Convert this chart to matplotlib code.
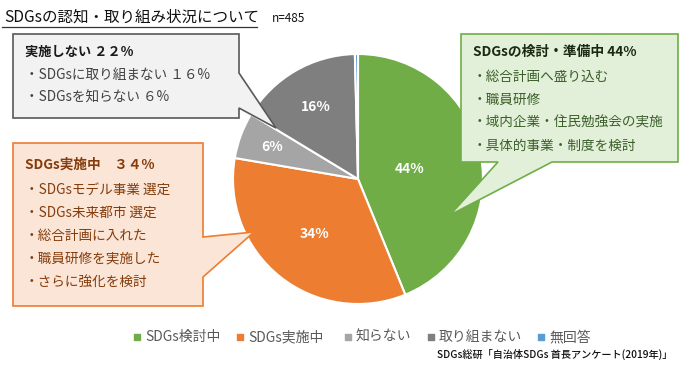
import matplotlib.pyplot as plt
import numpy as np
from matplotlib.patches import Polygon

plt.rcParams['font.family'] = ['Noto Sans CJK JP', 'DejaVu Sans']

# data
categories = ['SDGs検討中', 'SDGs実施中', '知らない', '取り組まない', '無回答']
values = [44, 34, 6, 16, 0.4]
pct_labels = ['44%', '34%', '6%', '16%', '']
colors = ['#70AD47', '#ED7D31', '#A5A5A5', '#7F7F7F', '#5B9BD5']

W, H = 680, 377
fig = plt.figure(figsize=(W / 100, H / 100), dpi=100)

# pie
cx, cy, r = 358, 179, 125
ax = fig.add_axes([(cx - r) / W, 1 - (cy + r) / H, 2 * r / W, 2 * r / H])
wedges, _ = ax.pie(values, colors=colors, startangle=90, counterclock=False,
                   wedgeprops=dict(edgecolor='white', linewidth=1.5))
ax.set_xlim(-1, 1)
ax.set_ylim(-1, 1)
dists = [0.42, 0.56, 0.73, 0.67, 0.5]
for w, lab, d in zip(wedges, pct_labels, dists):
    ang = np.deg2rad((w.theta1 + w.theta2) / 2)
    ax.text(d * np.cos(ang), d * np.sin(ang), lab, ha='center', va='center',
            color='white', fontsize=10, fontweight='bold')

# overlay axes in pixel coordinates, drawn above the pie
ov = fig.add_axes([0, 0, 1, 1])
ov.set_xlim(0, W)
ov.set_ylim(H, 0)
ov.axis('off')
ov.set_zorder(5)

# title
ov.text(4, 17, 'SDGsの認知・取り組み状況について', fontsize=11.2, va='center', color='#111111')
ov.plot([2, 257], [27, 27], color='#333333', lw=0.9)
ov.text(272, 18, 'n=485', fontsize=8.5, va='center', color='#111111')

# callout: not doing
ov.add_patch(Polygon([(13, 34), (239, 34), (239, 73), (276, 128), (239, 108),
                      (239, 118), (13, 118)], closed=True,
                     facecolor='#F2F2F2', edgecolor='#595959', lw=1.2, zorder=3))
ov.text(25, 52, '実施しない ２２%', fontsize=9.5, fontweight='bold', color='#1a1a1a',
        va='center', zorder=4)
ov.text(25, 75, '・SDGsに取り組まない １６%', fontsize=9.8, color='#404040',
        va='center', zorder=4)
ov.text(25, 98, '・SDGsを知らない ６%', fontsize=9.8, color='#404040',
        va='center', zorder=4)

# callout: implementing
ov.add_patch(Polygon([(13, 143), (203, 143), (203, 237), (254, 232), (203, 277),
                      (203, 306), (13, 306)], closed=True,
                     facecolor='#FBE5D6', edgecolor='#ED7D31', lw=1.2, zorder=3))
ov.text(25, 165, 'SDGs実施中　３４%', fontsize=9.8, fontweight='bold', color='#843C0C',
        va='center', zorder=4)
orange_items = ['・SDGsモデル事業 選定', '・SDGs未来都市 選定', '・総合計画に入れた',
                '・職員研修を実施した', '・さらに強化を検討']
for i, t in enumerate(orange_items):
    ov.text(25, 190 + i * 23, t, fontsize=9.8, color='#843C0C', va='center', zorder=4)

# callout: considering
ov.add_patch(Polygon([(461, 34), (678, 34), (678, 162), (552, 162), (450, 215),
                      (498, 162), (461, 162)], closed=True,
                     facecolor='#E2F0D9', edgecolor='#70AD47', lw=1.2, zorder=3))
ov.text(473, 52, 'SDGsの検討・準備中 44%', fontsize=9.9, fontweight='bold', color='#1a2a10',
        va='center', zorder=4)
green_items = ['・総合計画へ盛り込む', '・職員研修', '・域内企業・住民勉強会の実施',
               '・具体的事業・制度を検討']
for i, t in enumerate(green_items):
    ov.text(473, 77 + i * 23, t, fontsize=9.8, color='#3B5E2A', va='center', zorder=4)

# legend
leg_x = [137, 240, 348, 431, 541]
for x, c, name in zip(leg_x, colors, categories):
    ov.scatter([x], [337], marker='s', s=14, color=c)
    ov.text(x + 8, 337, name, fontsize=10, color='#595959', va='center')

# source
ov.text(672, 354, 'SDGs総研「自治体SDGs 首長アンケート(2019年)」', fontsize=7.3,
        ha='right', va='center', color='#111111', fontweight='medium')

fig.savefig('out.png', dpi=100)
